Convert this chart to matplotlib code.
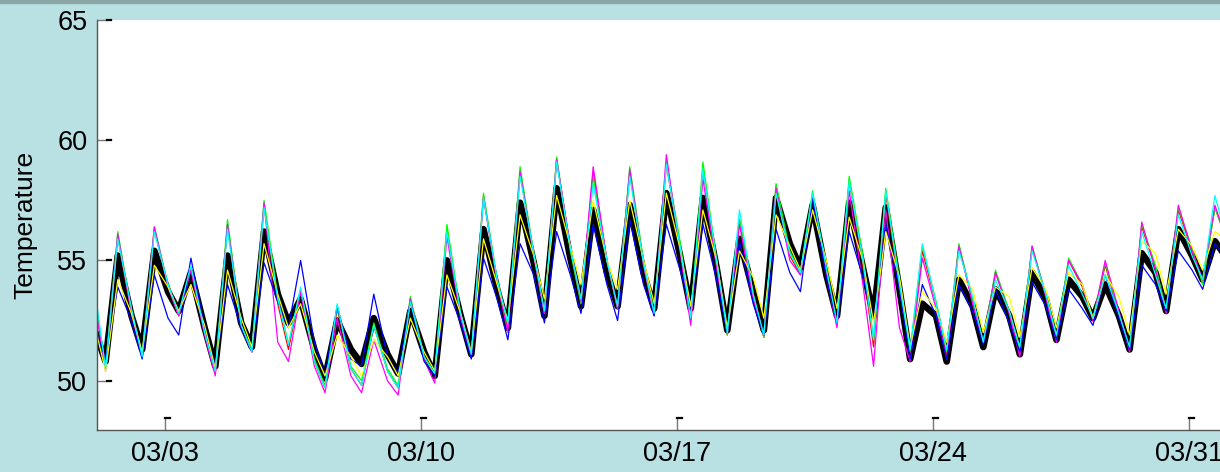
import matplotlib
matplotlib.use("Agg")
import matplotlib.pyplot as plt
import matplotlib.dates as mdates
import matplotlib.transforms as mtransforms
from datetime import datetime, timedelta

plt.rcParams['font.family'] = ['Liberation Sans', 'DejaVu Sans']

# one value at 03:00 on the first day, then per day: 09:00 low, 17:00 high, 02:00 next day
start_day = datetime(2015, 3, 1)
n_days = 31

black_temp = [51.9,
    50.8, 55.2, 52.7,  51.3, 55.4, 53.7,  52.9, 54.5, 52.2,  50.6, 55.2, 52.4,
    51.4, 56.2, 53.6,  52.4, 53.4, 51.3,  50.1, 52.5, 51.3,  50.7, 52.6, 51.1,
    50.3, 52.9, 51.2,  50.2, 55.0, 52.7,  51.1, 56.3, 53.8,  52.2, 57.4, 54.9,
    52.7, 58.0, 55.1,  53.1, 57.1, 54.5,  53.1, 57.3, 54.5,  53.0, 57.8, 55.2,
    53.0, 57.6, 54.7,  52.1, 55.9, 53.7,  52.1, 57.6, 55.7,  54.7, 57.3, 54.4,
    52.7, 57.4, 54.7,  52.7, 57.2, 53.8,  50.9, 53.2, 52.7,  50.8, 54.2, 53.1,
    51.4, 53.8, 52.7,  51.1, 54.5, 53.4,  51.7, 54.2, 53.5,  52.6, 54.0, 52.7,
    51.3, 55.3, 54.5,  52.9, 56.3, 55.2,  54.2, 55.8, 55.0]

red_temp = [52.9,
    50.5, 56.0, 52.8,  51.0, 56.3, 53.9,  52.7, 54.7, 52.0,  50.3, 56.5, 52.3,
    51.2, 57.3, 53.2,  51.3, 53.8, 50.8,  49.7, 53.0, 50.5,  49.8, 52.3, 50.4,
    49.7, 53.4, 51.0,  50.2, 56.3, 52.7,  51.0, 57.7, 54.1,  52.2, 58.7, 55.2,
    52.8, 59.2, 55.5,  53.2, 58.7, 55.0,  53.0, 58.7, 54.9,  52.7, 59.0, 55.6,
    52.5, 58.8, 55.0,  51.9, 56.7, 53.5,  51.8, 58.1, 55.2,  54.4, 57.7, 54.5,
    52.3, 58.3, 54.8,  51.4, 57.8, 53.8,  51.1, 55.4, 53.2,  51.1, 55.6, 53.3,
    51.6, 54.5, 52.9,  51.2, 55.5, 53.6,  51.7, 55.0, 53.9,  52.5, 54.8, 52.8,
    51.3, 56.4, 54.7,  52.9, 57.1, 55.4,  54.1, 57.2, 55.6]

green_temp = [53.0,
    50.6, 56.2, 52.9,  51.1, 56.4, 54.0,  52.7, 54.7, 52.0,  50.4, 56.7, 52.3,
    51.3, 57.5, 53.5,  51.5, 53.8, 50.9,  49.8, 53.1, 50.6,  50.0, 52.4, 50.5,
    49.8, 53.5, 51.0,  50.3, 56.5, 52.8,  51.0, 57.8, 54.2,  52.3, 58.9, 55.3,
    52.8, 59.3, 55.4,  53.2, 58.5, 55.0,  53.0, 58.9, 55.0,  52.8, 59.1, 55.8,
    52.6, 59.1, 55.0,  51.9, 56.7, 53.6,  51.8, 58.2, 55.4,  54.5, 57.9, 54.5,
    52.4, 58.5, 55.2,  51.7, 58.0, 54.2,  51.2, 55.6, 53.3,  51.2, 55.7, 53.3,
    51.6, 54.6, 52.9,  51.3, 55.6, 53.6,  51.8, 55.1, 54.0,  52.6, 54.9, 52.8,
    51.3, 56.5, 54.8,  52.9, 57.2, 55.5,  54.0, 57.2, 55.6]

magenta_temp = [52.8,
    50.4, 56.1, 52.8,  51.0, 56.4, 53.9,  52.7, 54.6, 51.9,  50.2, 56.5, 52.2,
    51.2, 57.4, 51.6,  50.8, 53.7, 50.6,  49.5, 52.6, 50.2,  49.5, 51.7, 50.0,
    49.4, 53.4, 50.9,  49.9, 56.0, 52.6,  51.0, 57.6, 54.1,  52.0, 58.7, 55.2,
    52.8, 59.2, 55.6,  53.3, 58.9, 55.0,  53.0, 58.8, 54.8,  52.7, 59.4, 55.4,
    52.3, 58.4, 54.7,  52.0, 56.5, 53.4,  51.9, 58.0, 55.0,  54.4, 57.6, 54.4,
    52.2, 57.9, 54.0,  50.6, 57.1, 52.2,  50.8, 55.1, 53.0,  50.9, 55.6, 53.2,
    51.6, 54.5, 52.8,  51.0, 55.6, 53.5,  51.6, 55.0, 54.0,  52.5, 55.0, 52.9,
    51.2, 56.6, 54.6,  52.8, 57.3, 55.4,  54.2, 57.3, 55.6]

blue_temp = [52.0,
    50.9, 53.9, 52.5,  50.9, 54.4, 52.6,  51.9, 55.1, 52.2,  50.6, 54.0, 52.2,
    51.2, 54.9, 53.3,  52.2, 55.0, 51.6,  50.2, 53.1, 50.9,  50.6, 53.6, 51.0,
    50.3, 53.3, 50.8,  50.2, 53.9, 52.4,  50.9, 55.1, 53.4,  51.7, 55.7, 54.4,
    52.4, 56.2, 54.4,  52.8, 56.5, 54.0,  52.5, 56.7, 54.0,  52.7, 56.5, 54.6,
    53.0, 56.5, 54.2,  52.0, 55.8, 53.2,  51.9, 56.3, 54.5,  53.7, 57.6, 54.3,
    52.4, 56.2, 54.3,  52.5, 56.5, 53.8,  50.9, 54.0, 52.7,  50.9, 54.0, 52.9,
    51.5, 53.8, 52.4,  51.2, 54.1, 53.1,  51.7, 53.8, 53.0,  52.3, 54.4, 52.6,
    51.3, 54.8, 54.0,  52.9, 55.4, 54.6,  53.8, 55.7, 55.0]

yellow_temp = [52.0,
    50.4, 54.2, 52.8,  51.2, 54.8, 53.9,  52.9, 54.0, 52.3,  50.5, 54.6, 52.6,
    51.4, 55.7, 53.6,  52.2, 53.2, 51.2,  50.2, 51.9, 51.0,  50.2, 51.7, 51.0,
    50.2, 52.6, 51.2,  50.4, 54.4, 52.8,  51.2, 55.9, 54.0,  52.5, 56.9, 55.2,
    53.4, 57.7, 55.6,  54.0, 57.5, 55.0,  53.8, 57.5, 55.0,  53.2, 57.8, 55.5,
    53.1, 57.1, 55.0,  52.2, 55.4, 54.3,  52.6, 56.9, 55.6,  54.6, 57.1, 55.0,
    53.0, 56.8, 55.0,  52.4, 56.2, 54.3,  51.4, 53.7, 53.0,  51.6, 54.4, 53.8,
    52.0, 53.9, 53.5,  51.8, 54.7, 53.8,  52.2, 54.5, 54.0,  52.6, 54.4, 53.5,
    51.9, 55.8, 55.3,  53.6, 56.3, 55.6,  54.6, 56.2, 55.8]

cyan_temp = [53.3,
    50.5, 55.9, 53.0,  51.0, 56.2, 54.0,  52.8, 54.8, 52.0,  50.4, 56.3, 52.3,
    51.2, 57.2, 53.4,  51.5, 53.9, 50.8,  49.7, 53.2, 50.5,  49.8, 52.3, 50.4,
    49.7, 53.3, 51.0,  50.3, 56.2, 52.8,  51.1, 57.6, 54.2,  52.4, 58.5, 55.3,
    52.9, 59.1, 55.5,  53.4, 58.2, 55.0,  53.1, 58.5, 54.9,  52.8, 59.0, 55.6,
    52.6, 58.8, 55.0,  52.0, 57.1, 53.6,  51.9, 57.8, 55.3,  54.5, 57.8, 54.7,
    52.4, 58.3, 55.0,  51.7, 57.9, 54.0,  51.3, 55.7, 53.2,  51.3, 55.4, 53.5,
    51.6, 54.2, 52.9,  51.4, 55.4, 53.6,  51.9, 54.8, 53.6,  52.6, 54.4, 52.8,
    51.4, 56.2, 54.4,  53.0, 56.9, 55.2,  54.2, 57.7, 55.6]

tick_days = [datetime(2015, 3, d) for d in (3, 10, 17, 24, 31)]
y_ticks = [50, 55, 60, 65]

times = [start_day + timedelta(hours=3)]
for k in range(n_days):
    day = start_day + timedelta(days=k)
    times += [day + timedelta(hours=9), day + timedelta(hours=17), day + timedelta(hours=26)]

bg = '#b9e0e2'
fig = plt.figure(figsize=(12.2, 4.72), dpi=100, facecolor=bg)
fig.patches.append(plt.Rectangle((0, 1 - 3 / 472), 1, 3 / 472, transform=fig.transFigure,
                                 color='#8aa6a7', zorder=0))
ax = fig.add_axes([97 / 1220, 42 / 472, 1 - 97 / 1220, 410 / 472])
ax.set_facecolor('white')

ax.plot(times, black_temp, color='black', lw=4.8, solid_joinstyle='round')
for vals, c in [(red_temp, '#ff0000'), (green_temp, '#00ff00'), (magenta_temp, '#ff00ff'),
                (blue_temp, '#0000ff'), (yellow_temp, '#ffff00'), (cyan_temp, '#00ffff')]:
    ax.plot(times, vals, color=c, lw=0.9)

x0 = datetime(2015, 3, 1, 3, 22)
x1 = x0 + timedelta(days=1123 / 36.571)
ax.set_xlim(x0, x1)
ax.set_ylim(47.95, 65)

for s in ['top', 'right']:
    ax.spines[s].set_visible(False)
for s in ['left', 'bottom']:
    ax.spines[s].set_color('#555555')
    ax.spines[s].set_linewidth(1.0)

ax.set_yticks(y_ticks)
ax.set_xticks(tick_days)
ax.xaxis.set_major_formatter(mdates.DateFormatter('%m/%d'))
ax.tick_params(axis='both', direction='in', colors='#777777', labelcolor='black',
               labelsize=19.5, width=1.0)
ax.tick_params(axis='y', length=7.5, pad=7)
ax.tick_params(axis='x', length=9, pad=8)

# little black caps at the tick ends
ytr = mtransforms.blended_transform_factory(ax.transAxes, ax.transData)
for yv in y_ticks:
    ax.plot([10 / 1123, 14 / 1123], [yv, yv], color='black', lw=1.6, transform=ytr, clip_on=False)
xtr = mtransforms.blended_transform_factory(ax.transData, ax.transAxes)
for d in tick_days:
    ax.plot([d, d + timedelta(days=5 / 36.571)], [12 / 410, 12 / 410], color='black', lw=1.6,
            transform=xtr, clip_on=False)

ax.set_ylabel('Temperature', fontsize=19)
ax.yaxis.set_label_coords(-0.053, 0.5)

fig.savefig('out.png', dpi=100, facecolor=bg)
